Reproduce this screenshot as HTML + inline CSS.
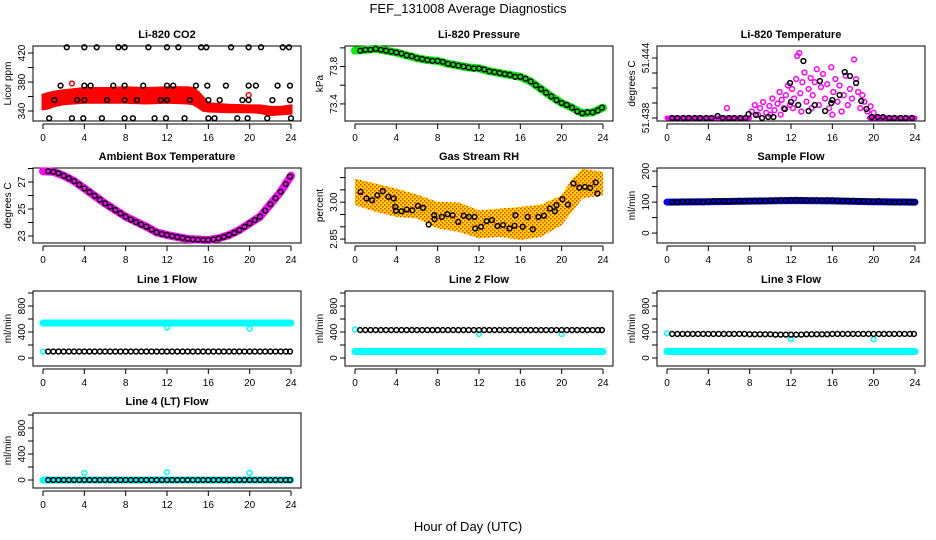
<!DOCTYPE html>
<html><head><meta charset="utf-8"><style>
html,body{margin:0;padding:0;background:#fff;}
svg{display:block;font-family:"Liberation Sans",sans-serif;}
</style></head><body>
<svg id="chart" width="936" height="540" viewBox="0 0 936 540">
<defs>
<pattern id="rhpat" width="4" height="4" patternUnits="userSpaceOnUse"><rect width="4" height="4" fill="#ffd800"/><rect width="1.5" height="1.5" fill="#f03000"/><rect x="2" y="2" width="1.5" height="1.5" fill="#f03000"/></pattern>
</defs>
<text x="468" y="13" text-anchor="middle" font-size="13">FEF_131008  Average Diagnostics</text>
<text x="468" y="531" text-anchor="middle" font-size="13">Hour of Day (UTC)</text>
</svg>
<script>
const hh=[0.5,1,1.5,2,2.5,3,3.5,4,4.5,5,5.5,6,6.5,7,7.5,8,8.5,9,9.5,10,10.5,11,11.5,12,12.5,13,13.5,14,14.5,15,15.5,16,16.5,17,17.5,18,18.5,19,19.5,20,20.5,21,21.5,22,22.5,23,23.5,23.9];
const xTicks=[0,4,8,12,16,20,24];
// CO2
const co2BandH=[0,0.5,1,2,4,6,8,10,12,14,14.5,15,15.5,16,18,20,21,22,23,24];
const co2Upper=[362,364,366,368,371,371,372,371,372,372,371,366,358,350,348,347,347,345,345,347];
const co2Lower=[343,344,347,350,352,352,352,351,352,351,350,346,341,340,339,339,338,335,336,337];
const co2Hours=[2.3,4.0,5.2,7.3,7.9,10.2,12.0,13.1,15.3,15.8,18.2,19.9,21.1,23.2,23.8,1.7,4.0,4.6,6.8,7.9,9.7,12.0,12.6,14.8,15.9,17.7,19.9,20.6,22.7,23.9,1.1,3.3,4.0,6.2,7.9,9.1,11.4,12.0,14.2,16.0,17.1,19.3,19.9,22.2,23.9,0.6,2.8,3.9,5.7,7.9,8.7,10.8,11.9,13.7,16.0,16.6,18.8,19.8,21.7,24.0];
const co2Vals=[428,428,428,428,428,428,428,428,428,428,428,428,428,428,428,375,375,375,375,375,375,375,375,375,375,375,375,375,375,375,355,355,355,355,355,355,355,355,355,355,355,355,355,355,355,330,330,330,330,330,330,330,330,330,330,330,330,330,330,330];
// Pressure
const presH=[0,1,2,3,4,5,6,7,8,9,10,11,12,13,14,15,16,17,18,19,20,21,22,23,24];
const presVals=[73.97,73.98,73.99,73.97,73.95,73.92,73.89,73.87,73.86,73.83,73.81,73.79,73.78,73.75,73.73,73.71,73.69,73.64,73.56,73.48,73.41,73.36,73.30,73.31,73.36];
const presBlack=[73.97,73.98,73.98,73.99,73.98,73.97,73.96,73.95,73.94,73.92,73.91,73.89,73.88,73.87,73.86,73.86,73.85,73.83,73.82,73.81,73.80,73.79,73.78,73.78,73.77,73.75,73.74,73.73,73.72,73.71,73.69,73.69,73.67,73.64,73.60,73.56,73.52,73.48,73.44,73.41,73.39,73.36,73.32,73.30,73.31,73.31,73.33,73.36];
// Temperature
const tempBaseH=[0,8,19.6,24];
const tempCloudH=[8.2,8.5,8.8,9.0,9.3,9.6,9.9,10.2,10.4,10.7,10.9,11.1,11.3,11.5,11.7,11.9,12.1,12.3,12.5,12.6,12.8,12.9,13.1,13.3,13.5,13.7,13.9,14.1,14.3,14.5,14.7,14.9,15.1,15.3,15.5,15.7,15.9,16.1,16.3,16.5,16.7,16.9,17.1,17.3,17.5,17.7,17.9,18.1,18.3,18.5,18.7,18.9,19.1,19.4,19.7,20.0,5.8,12.2,13.0,14.0,16.0,10.0,11.0];
const tempCloudV=[51.43865,51.4393,51.43833,51.43898,51.4396,51.43852,51.4392,51.43995,51.43878,51.43943,51.4406,51.43982,51.43898,51.44028,51.44125,51.4393,51.4409,51.43995,51.4419,51.4442,51.4445,51.44047,51.44158,51.44255,51.43963,51.4409,51.442,51.44028,51.44158,51.44288,51.4393,51.4411,51.4424,51.43995,51.44138,51.43898,51.44307,51.4406,51.4419,51.43963,51.44125,51.43865,51.44028,51.44223,51.4393,51.4409,51.43995,51.44385,51.4419,51.4406,51.43898,51.44028,51.43963,51.43865,51.43917,51.43852,51.43898,51.43898,51.43865,51.43898,51.43833,51.43833,51.43833];
const tempBlackH=[0.5,1.0,1.6,2.1,2.7,3.2,3.8,4.3,4.9,5.4,6.0,6.5,7.1,7.6,13.2,11.9,17.2,17.7,18.3,14.8,16.7,16.0,15.9,14.3,12.7,12.0,11.4,13.7,15.3,18.8,19.3,7.9,8.6,9.2,9.8,10.3,19.8,20.4,20.9,21.5,22.0,22.6,23.1,23.7];
const tempBlackV=[51.438,51.438,51.438,51.438,51.438,51.438,51.438,51.438,51.4382,51.438,51.438,51.438,51.438,51.438,51.4437,51.4415,51.4426,51.4422,51.4415,51.4417,51.4403,51.4398,51.4395,51.4393,51.4393,51.4396,51.4389,51.4387,51.4387,51.4397,51.4389,51.4384,51.4383,51.438,51.4381,51.4381,51.4381,51.4381,51.4381,51.438,51.438,51.438,51.438,51.438];
// Ambient
const ambH=[0,1,2,3,4,6,8,10,11,12,14,16,17,18,19,20,21,22,23,24];
const ambVals=[27.8,27.76,27.47,27.07,26.53,25.42,24.43,23.69,23.27,23.07,22.78,22.7,22.83,23.07,23.44,23.94,24.43,25.35,26.28,27.47];
const ambBlack=[27.8,27.76,27.65,27.47,27.28,27.07,26.8,26.53,26.25,25.98,25.7,25.42,25.17,24.92,24.67,24.43,24.22,24.03,23.85,23.69,23.47,23.27,23.15,23.07,23.0,22.92,22.85,22.78,22.75,22.72,22.7,22.7,22.75,22.83,22.93,23.07,23.23,23.44,23.68,23.94,24.18,24.43,24.88,25.35,25.8,26.28,26.85,27.4];
// RH
const rhBandH=[0,2,4,6,8,10,12,14,16,18,20,21,22,23,24];
const rhUpper=[3.096,3.076,3.055,3.031,3.001,2.999,2.967,2.974,2.981,2.990,3.028,3.096,3.136,3.130,3.123];
const rhLower=[2.988,2.961,2.940,2.934,2.893,2.880,2.853,2.859,2.846,2.859,2.907,2.961,3.015,3.022,3.028];
const rhH=[0.54,1.11,1.65,2.16,2.69,3.23,3.74,3.90,3.96,4.50,5.01,5.55,6.09,6.59,7.13,7.67,7.70,8.40,8.94,9.45,9.99,10.52,11.03,11.57,11.63,12.20,12.74,13.25,13.79,14.33,14.96,15.44,15.53,16.23,16.71,17.21,17.75,18.29,18.86,19.34,19.50,20.07,20.61,21.14,21.71,22.25,22.76,23.30,23.46];
const rhVals=[3.042,3.015,3.008,3.028,3.045,3.022,3.015,2.981,2.965,2.963,2.970,2.967,2.985,2.977,2.909,2.947,2.931,2.940,2.951,2.947,2.920,2.945,2.940,2.940,2.893,2.900,2.923,2.927,2.903,2.907,2.893,2.904,2.947,2.900,2.940,2.890,2.940,2.945,2.974,2.963,2.988,3.012,2.990,3.076,3.059,3.062,3.058,3.080,3.035];
// Sample flow
const sfH=[0,4,8,12,16,20,24];
const sfVals=[100,101,103,105,104,101,100];
const sfBlack=[100,99,102,101,101,101,100,102,103,103,103,102,103,104,103,104,104,105,104,105,105,106,105,106,107,106,105,105,106,105,106,106,105,104,104,104,103,103,102,102,103,101,100,99,100,101,100,100];
// Line flows
const flowBandH=[0,24];
const l1Cyan=[538,538];
const l1Black=[100,100,100,100,100,100,100,100,100,100,100,100,100,100,100,100,100,100,100,100,100,100,100,100,100,100,100,100,100,100,100,100,100,100,100,100,100,100,100,100,100,100,100,100,100,100,100,100];
const l1OutH=[0,12,20];
const l1OutV=[100,470,450];
const l2Cyan=[100,100];
const l2Black=[430,430,430,430,430,430,430,430,430,430,430,430,430,430,430,430,430,430,430,430,430,430,430,430,430,430,430,430,430,430,430,430,430,430,430,430,430,430,430,430,430,430,430,430,430,430,430,430];
const l2OutH=[0,12,20];
const l2OutV=[440,370,370];
const l3Cyan=[100,100];
const l3Black=[370,370,370,370,370,370,370,370,370,370,370,370,370,370,370,365,365,365,365,365,360,360,360,360,360,360,365,365,365,365,365,370,370,370,370,370,370,370,370,370,370,370,370,370,370,370,370,370];
const l3OutH=[0,12,20];
const l3OutV=[380,290,290];
const l4Cyan=[0,0];
const l4Black=[0,0,0,0,0,0,0,0,0,0,0,0,0,0,0,0,0,0,0,0,0,0,0,0,0,0,0,0,0,0,0,0,0,0,0,0,0,0,0,0,0,0,0,0,0,0,0,0];
const l4OutH=[4,12,20];
const l4OutV=[110,120,110];

const svg=document.getElementById('chart');
const NS='http://www.w3.org/2000/svg';
function mk(tag,attrs,parent){const e=document.createElementNS(NS,tag);for(const k in attrs)e.setAttribute(k,attrs[k]);(parent||svg).appendChild(e);return e;}
const colL=[33,345,657],rowT=[46,168,291,413],W=268,H=75;

function panel(c,r,name,title,ylab,ylim,yticks,ylabels){
  const L=colL[c],T=rowT[r];
  const g=mk('g',{});
  
  
  const sx=h=>L+10+h*(W-20)/24;
  const sy=v=>T+H-(v-ylim[0])/(ylim[1]-ylim[0])*H;
  const box=mk('rect',{x:L,y:T,width:W,height:H,fill:'none',stroke:'#000','stroke-width':1},g);
  
  
  const t=mk('text',{x:L+W/2,y:T-8,'text-anchor':'middle','font-size':11,'font-weight':'bold'},g);
  t.textContent=title;
  
  
  const xa=mk('g',{},g);
  
  
  const ay=T+H+3;
  mk('line',{x1:sx(0),x2:sx(24),y1:ay,y2:ay,stroke:'#000'},xa);
  xTicks.forEach(v=>{mk('line',{x1:sx(v),x2:sx(v),y1:ay,y2:ay+5,stroke:'#000'},xa);
    const tl=mk('text',{x:sx(v),y:ay+17,'text-anchor':'middle','font-size':10},xa);tl.textContent=v;});
  const ya=mk('g',{},g);
  
  
  mk('line',{x1:L,x2:L,y1:sy(yticks[0]),y2:sy(yticks[yticks.length-1]),stroke:'#000'},ya);
  yticks.forEach(v=>mk('line',{x1:L-5,x2:L,y1:sy(v),y2:sy(v),stroke:'#000'},ya));
  ylabels.forEach(([v,s])=>{const tl=mk('text',{x:0,y:0,'text-anchor':'middle','font-size':10,transform:`translate(${L-8},${sy(v)}) rotate(-90)`},ya);tl.textContent=s;});
  const yl=mk('text',{x:0,y:0,'text-anchor':'middle','font-size':10,transform:`translate(${L-22},${T+H/2}) rotate(-90)`},g);
  yl.textContent=ylab;
  
  
  const clip=mk('g',{},g);
  return {sx,sy,g:clip};
}
function band(p,xs,lo,hi,fill,name){
  const pts=xs.map((x,i)=>p.sx(x)+','+p.sy(hi[i])).concat(xs.map((x,i)=>p.sx(x)+','+p.sy(lo[i])).reverse());
  const e=mk('polygon',{points:pts.join(' '),fill:fill,stroke:fill==='url(#rhpat)'?'none':fill,'stroke-width':3},p.g);
  
  
}
function thick(p,xs,ys,color,w,name){
  const e=mk('polyline',{points:xs.map((x,i)=>p.sx(x)+','+p.sy(ys[i])).join(' '),fill:'none',stroke:color,'stroke-width':w,'stroke-linejoin':'round','stroke-linecap':'round'},p.g);
  
  
}
function pts(p,xs,ys,color,name,sw){
  const gg=mk('g',{},p.g);
  
  
  xs.forEach((x,i)=>{const c=mk('circle',{cx:p.sx(x),cy:p.sy(ys[i]),r:2.4,fill:'none',stroke:color,'stroke-width':sw||1.5},gg);
    
    });
}
let p;
p=panel(0,0,'co2-panel','Li-820 CO2','Licor ppm',[326.2,429.7],[340,360,380,400,420],[[340,'340'],[380,'380'],[420,'420']]);
band(p,co2BandH,co2Lower,co2Upper,'#ff0000','co2-band');
pts(p,[2.8,19.9],[378,362],'#ff0000','co2-red-outliers');
pts(p,co2Hours,co2Vals,'#000','co2-hourly-points');
p=panel(1,0,'pressure-panel','Li-820 Pressure','kPa',[73.217,74.02],[73.4,73.6,73.8,74.0],[[73.4,'73.4'],[73.8,'73.8']]);
thick(p,presH,presVals,'#00ee00',8,'pressure-band');
pts(p,hh,presBlack,'#000','pressure-points');
p=panel(2,0,'temperature-panel','Li-820 Temperature','degrees C',[51.4377,51.4452],[51.438,51.4395,51.441,51.4425,51.444],[[51.438,'51.438'],[51.444,'51.444']]);
thick(p,tempBaseH.slice(0,2),[51.438,51.438],'#ff00ff',5,'temp-base-left');
thick(p,tempBaseH.slice(2),[51.438,51.438],'#ff00ff',5,'temp-base-right');
pts(p,tempCloudH,tempCloudV,'#ff00ff','temp-cloud',1.5);
pts(p,tempBlackH,tempBlackV,'#000','temp-points');
p=panel(0,1,'ambient-panel','Ambient Box Temperature','degrees C',[22.48,28.04],[23,24,25,26,27,28],[[23,'23'],[25,'25'],[27,'27']]);
thick(p,ambH,ambVals,'#ff00ff',8,'ambient-band');
pts(p,hh,ambBlack,'#000','ambient-points');
p=panel(1,1,'rh-panel','Gas Stream RH','percent',[2.834,3.139],[2.85,2.9,2.95,3.0,3.05,3.1],[[2.85,'2.85'],[3.0,'3.00']]);
band(p,rhBandH,rhLower,rhUpper,'url(#rhpat)','rh-cloud');
pts(p,rhH,rhVals,'#000','rh-points');
p=panel(2,1,'sample-flow-panel','Sample Flow','ml/min',[-32,210],[0,50,100,150,200],[[0,'0'],[100,'100'],[200,'200']]);
thick(p,sfH,sfVals,'#0000ee',7,'sample-flow-band');
pts(p,hh,sfBlack,'#000','sample-flow-points');
const fl=[-123,1031],ft=[0,200,400,600,800,1000],fla=[[0,'0'],[400,'400'],[800,'800']];
p=panel(0,2,'line1-panel','Line 1 Flow','ml/min',fl,ft,fla);
thick(p,flowBandH,l1Cyan,'#00ffff',7,'line1-cyan-band');
pts(p,l1OutH,l1OutV,'#00ffff','line1-cyan-outliers');
pts(p,hh,l1Black,'#000','line1-points');
p=panel(1,2,'line2-panel','Line 2 Flow','ml/min',fl,ft,fla);
thick(p,flowBandH,l2Cyan,'#00ffff',7,'line2-cyan-band');
pts(p,l2OutH,l2OutV,'#00ffff','line2-cyan-outliers');
pts(p,hh,l2Black,'#000','line2-points');
p=panel(2,2,'line3-panel','Line 3 Flow','ml/min',fl,ft,fla);
thick(p,flowBandH,l3Cyan,'#00ffff',7,'line3-cyan-band');
pts(p,l3OutH,l3OutV,'#00ffff','line3-cyan-outliers');
pts(p,hh,l3Black,'#000','line3-points');
p=panel(0,3,'line4-panel','Line 4 (LT) Flow','ml/min',fl,ft,fla);
thick(p,flowBandH,l4Cyan,'#00ffff',7,'line4-cyan-band');
pts(p,l4OutH,l4OutV,'#00ffff','line4-cyan-outliers');
pts(p,hh,l4Black,'#000','line4-points');
</script>
</body></html>
